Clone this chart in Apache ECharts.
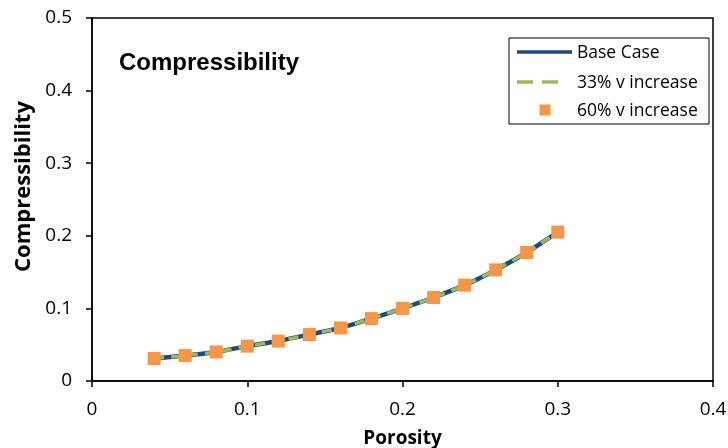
<!DOCTYPE html>
<html>
<head>
<meta charset="utf-8">
<script src="https://cdn.jsdelivr.net/npm/echarts@6/dist/echarts.min.js"></script>
<style>
  html, body { margin: 0; padding: 0; background: #fff; }
  #chart { width: 728px; height: 448px; }
</style>
</head>
<body>
<div id="chart"></div>
<script>
// Porosity values (x) shared by all cases
const porosity = [0.04, 0.06, 0.08, 0.10, 0.12, 0.14, 0.16, 0.18, 0.20, 0.22, 0.24, 0.26, 0.28, 0.30];
// Compressibility for each velocity case
const baseCase   = [0.031, 0.035, 0.040, 0.048, 0.055, 0.064, 0.073, 0.086, 0.100, 0.115, 0.132, 0.153, 0.177, 0.205];
const inc33      = [0.031, 0.035, 0.040, 0.048, 0.055, 0.064, 0.073, 0.086, 0.100, 0.115, 0.132, 0.153, 0.177, 0.205];
const inc60      = [0.031, 0.035, 0.040, 0.048, 0.055, 0.064, 0.073, 0.086, 0.100, 0.115, 0.132, 0.153, 0.177, 0.205];
const seriesNames = ['Base Case', '33% v increase', '60% v increase'];
const xTicks = [0, 0.1, 0.2, 0.3, 0.4];
const yTicks = [0, 0.1, 0.2, 0.3, 0.4, 0.5];

const pairs = ys => porosity.map((x, i) => [x, ys[i]]);

const BLUE = '#1F497D', GREEN = '#9BBB59', ORANGE = '#F79646';
const FONT = 'Open Sans';

// Boxed key in the upper right of the plot
const KEY_X = 509, KEY_Y = 38, KEY_W = 200, KEY_H = 86;
const rowY = [52, 82, 110];
const keyText = (i) => ({
  type: 'text', x: 577, y: rowY[i] + 1, z: 7,
  style: { text: seriesNames[i], font: '17.5px "' + FONT + '"', fill: '#000', verticalAlign: 'middle' }
});
const legendGraphics = [
  { type: 'rect', shape: { x: KEY_X, y: KEY_Y, width: KEY_W, height: KEY_H }, z: 5,
    style: { fill: '#fff', stroke: '#000', lineWidth: 1 } },
  { type: 'line', shape: { x1: 517, y1: rowY[0], x2: 572, y2: rowY[0] }, z: 6,
    style: { stroke: BLUE, lineWidth: 3.5 } },
  { type: 'line', shape: { x1: 517, y1: rowY[1], x2: 561, y2: rowY[1] }, z: 6,
    style: { stroke: GREEN, lineWidth: 3.5, lineDash: [16, 9] } },
  { type: 'rect', shape: { x: 539.5, y: rowY[2] - 5.5, width: 11, height: 11 }, z: 6,
    style: { fill: ORANGE } },
  keyText(0), keyText(1), keyText(2)
];

const chart = echarts.init(document.getElementById('chart'), null, { renderer: 'canvas' });
chart.setOption({
  backgroundColor: '#ffffff',
  animation: false,
  grid: {
    left: 92, right: 15, top: 18, bottom: 67, outerBoundsMode: 'none',
    show: true, borderColor: '#000', borderWidth: 1.5, backgroundColor: 'transparent'
  },
  title: {
    text: 'Compressibility', left: 114, top: 46,
    textStyle: { fontFamily: 'Liberation Sans', fontWeight: 'bold', fontSize: 24, color: '#000' }
  },
  graphic: legendGraphics,
  xAxis: {
    type: 'value', min: xTicks[0], max: xTicks[xTicks.length - 1], interval: 0.1,
    name: 'Porosity', nameLocation: 'middle', nameGap: 48,
    nameTextStyle: { fontFamily: FONT, fontWeight: 'bold', fontSize: 19, color: '#000' },
    axisLine: { show: true, onZero: false, lineStyle: { color: '#000', width: 1.5 } },
    axisTick: { show: true, length: 6, lineStyle: { color: '#000', width: 1.5 } },
    axisLabel: { fontFamily: FONT, fontSize: 19, color: '#000', margin: 19 },
    splitLine: { show: false }
  },
  yAxis: {
    type: 'value', min: yTicks[0], max: yTicks[yTicks.length - 1], interval: 0.1,
    name: 'Compressibility', nameLocation: 'middle', nameGap: 57, nameRotate: 90,
    nameTextStyle: { fontFamily: FONT, fontWeight: 'bold', fontSize: 22, color: '#000', padding: [0, 0, 0, 26] },
    axisLine: { show: true, onZero: false, lineStyle: { color: '#000', width: 1.5 } },
    axisTick: { show: true, length: 6, lineStyle: { color: '#000', width: 1.5 } },
    axisLabel: { fontFamily: FONT, fontSize: 19, color: '#000', margin: 20 },
    splitLine: { show: false }
  },
  series: [
    {
      name: seriesNames[0], type: 'line', data: pairs(baseCase),
      symbol: 'none', smooth: 0.2, z: 2,
      lineStyle: { color: BLUE, width: 4.5 }, itemStyle: { color: BLUE }
    },
    {
      name: seriesNames[1], type: 'line', data: pairs(inc33),
      symbol: 'none', smooth: 0.2, z: 3,
      lineStyle: { color: GREEN, width: 3.5, type: [10, 7] }, itemStyle: { color: GREEN }
    },
    {
      name: seriesNames[2], type: 'scatter', data: pairs(inc60),
      symbol: 'rect', symbolSize: 13, z: 4,
      itemStyle: { color: ORANGE, opacity: 1 }
    }
  ]
});
</script>
</body>
</html>
